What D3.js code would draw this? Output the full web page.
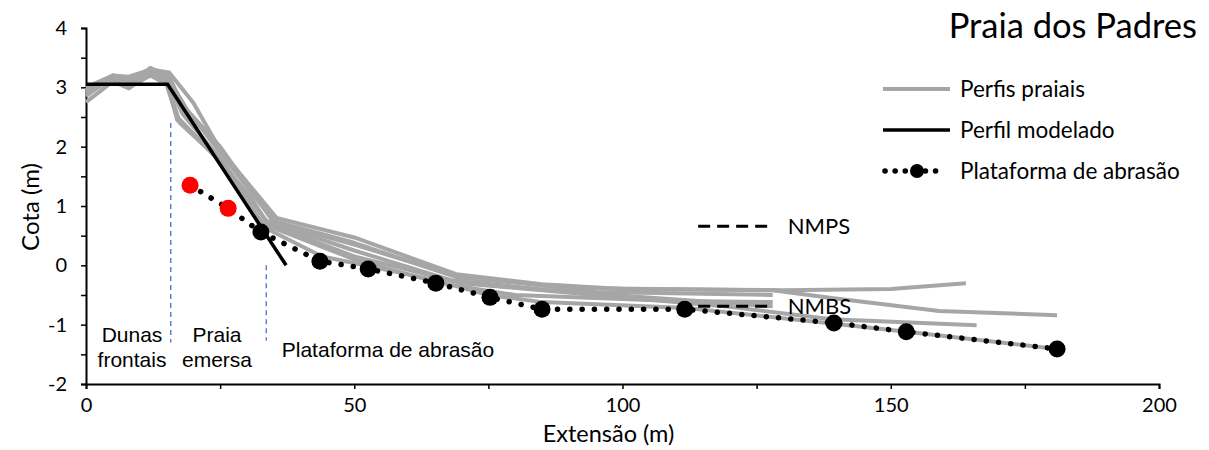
<!DOCTYPE html>
<html>
<head>
<meta charset="utf-8">
<script src="https://cdn.jsdelivr.net/npm/d3@7"></script>
<style>
  body { margin: 0; background: #fff; }
  svg text { fill: #000; }
</style>
</head>
<body>
<svg id="chart" width="1209" height="450"></svg>
<script>
// beach profiles, [distance m, elevation m]
const profileA = [[0,2.95],[3,3.1],[5,3.2],[8,3.15],[12,3.3],[15.5,3.25],[20,2.74],[25,1.95],[35.5,0.8],[50,0.47],[69,-0.15],[85,-0.32],[100,-0.4],[130,-0.42],[150,-0.4],[164,-0.3]];
const profileB = [[0,2.85],[5,3.18],[8,3.05],[12,3.33],[15,3.2],[19,2.6],[25,1.9],[35,0.75],[50,0.38],[69,-0.2],[90,-0.38],[128,-0.42],[139,-0.55],[159,-0.77],[181,-0.84]];
const profileC = [[0,2.75],[5,3.1],[8,2.98],[12,3.25],[15,3.1],[17.5,2.4],[23.7,1.89],[30.6,1.16],[33.5,0.75],[50,0.25],[68,-0.25],[90,-0.45],[114,-0.6],[128,-0.69]];
const profileD = [[0,3.0],[5,3.2],[8,3.1],[12,3.28],[15,3.15],[18,2.55],[25,1.8],[34,0.7],[50,0.15],[70,-0.3],[95,-0.5],[120,-0.7],[139,-0.91],[166,-1.01]];
const profileE = [[0,2.9],[5,3.15],[8,3.0],[12,3.2],[15,3.05],[17,2.5],[25,1.75],[33,0.65],[44,0.15],[52,0.0],[65,-0.25],[75,-0.5],[85,-0.62],[112,-0.72],[139,-0.98],[153,-1.12],[181,-1.41]];
const profileF = [[0,2.95],[5,3.2],[8,3.18],[12,3.3],[15.5,3.18],[18,2.7],[25,2.0],[35,0.72],[50,0.35],[68,-0.15],[95,-0.45],[128,-0.5]];
const profileG = [[0,3.0],[6,3.15],[8,3.05],[12,3.22],[15,3.1],[17,2.45],[24,1.85],[33,0.7],[50,0.1],[66,-0.3],[80,-0.5],[110,-0.6],[128,-0.62]];
const profiles = [profileA, profileB, profileC, profileD, profileE, profileF, profileG];

// modelled profile
const modelX = [0, 15.2, 37.3];
const modelY = [3.05, 3.05, 0];

// abrasion platform (first two points are the red ones)
const platformX = [19.4, 26.5, 32.6, 43.6, 52.6, 65.2, 75.3, 85, 111.6, 139.4, 152.9, 181];
const platformY = [1.35, 0.96, 0.56, 0.07, -0.06, -0.3, -0.54, -0.74, -0.74, -0.97, -1.12, -1.41];
const redPoints = 2;

// sea levels
const levelNames = ["NMPS", "NMBS"];
const levelX = [114.1, 128];
const levelY = [0.66, -0.69];

// zone boundaries
const zoneX = [15.8, 33.6];
const zoneTop = [2.4, 0];
const zoneBottom = [-1.3, -1.27];

const xTicks = d3.range(0, 201, 25);
const yTicks = d3.range(-2, 4.01, 0.5);

const margin = {top: 28, left: 86};
const w = 1073, h = 356;
const uiFont = "Lato, 'Open Sans', sans-serif";
const zoneFont = "'Liberation Sans', Arial, sans-serif";

const svg = d3.select("#chart");
const g = svg.append("g").attr("transform", `translate(${margin.left},${margin.top})`);

const x = d3.scaleLinear().domain([0, 200]).range([0, w]);
const y = d3.scaleLinear().domain([-2, 4]).range([h, 0]);
const line = d3.line().x(d => x(d[0])).y(d => y(d[1]));

// axes
const yAxis = g.append("g")
  .call(d3.axisLeft(y).tickValues(yTicks).tickSize(5).tickPadding(14)
    .tickFormat(d => Number.isInteger(d) ? String(d) : ""));
const xAxis = g.append("g").attr("transform", `translate(0,${h})`)
  .call(d3.axisBottom(x).tickValues(xTicks).tickSize(5).tickPadding(9)
    .tickFormat(d => d % 50 === 0 ? String(d) : ""));
[xAxis, yAxis].forEach(a => {
  a.attr("font-size", null).attr("font-family", null);
  a.select(".domain").attr("stroke", "#000").attr("stroke-width", 2);
  a.selectAll(".tick line").attr("stroke", "#000").attr("stroke-width", 1.5);
  a.selectAll(".tick text").style("font-family", uiFont).style("font-size", "20px").attr("fill", "#000");
});

g.append("text").attr("transform", `translate(-47,${h / 2 + 1}) rotate(-90)`)
  .attr("text-anchor", "middle").style("font-family", uiFont).style("font-size", "24px").text("Cota (m)");
g.append("text").attr("x", x(100) - 14).attr("y", h + 58)
  .attr("text-anchor", "middle").style("font-family", uiFont).style("font-size", "23.5px").text("Extensão (m)");

// zone dividers
g.selectAll(".zone").data(zoneX).join("line")
  .attr("x1", d => x(d)).attr("x2", d => x(d))
  .attr("y1", (d, i) => y(zoneTop[i])).attr("y2", (d, i) => y(zoneBottom[i]))
  .attr("stroke", "#4472c4").attr("stroke-width", 1.3).attr("stroke-dasharray", "5,4");

// gray profiles
g.selectAll(".prof").data(profiles).join("path")
  .attr("d", line).attr("fill", "none")
  .attr("stroke", "#a6a6a6").attr("stroke-width", 4).attr("stroke-linejoin", "round");

// modelled profile
g.append("path").datum(modelX.map((d, i) => [d, modelY[i]]))
  .attr("d", line).attr("fill", "none").attr("stroke", "#000").attr("stroke-width", 3.5);

// sea level dashes
g.selectAll(".lvl").data(levelY).join("line")
  .attr("x1", x(levelX[0])).attr("x2", x(levelX[1]))
  .attr("y1", d => y(d)).attr("y2", d => y(d))
  .attr("stroke", "#000").attr("stroke-width", 3).attr("stroke-dasharray", "12,7");
g.selectAll(".lvlText").data(levelNames).join("text")
  .attr("x", x(levelX[1]) + 15).attr("y", (d, i) => y(levelY[i]))
  .attr("dy", "0.35em").style("font-family", uiFont).style("font-size", "22px").text(d => d);

// platform dotted line + markers
const platform = platformX.map((d, i) => [d, platformY[i]]);
g.append("path").datum(platform).attr("d", line).attr("fill", "none")
  .attr("stroke", "#000").attr("stroke-width", 5.5).attr("stroke-linecap", "round")
  .attr("stroke-dasharray", "0.1,12.2");
g.selectAll(".pt").data(platform).join("circle")
  .attr("cx", d => x(d[0])).attr("cy", d => y(d[1])).attr("r", 8.5)
  .attr("fill", (d, i) => i < redPoints ? "#ff0000" : "#000");

// zone labels
const zoneLabels = [
  {lines: ["Dunas", "frontais"], cx: 132 - margin.left, y0: 342},
  {lines: ["Praia", "emersa"], cx: 217 - margin.left, y0: 342},
  {lines: ["Plataforma de abrasão"], cx: 388 - margin.left, y0: 357}
];
zoneLabels.forEach(z => {
  z.lines.forEach((t, i) => {
    g.append("text").attr("x", z.cx).attr("y", z.y0 - margin.top + i * 25)
      .attr("text-anchor", "middle").style("font-family", zoneFont)
      .style("font-size", "21px").text(t);
  });
});

// title
svg.append("text").attr("x", 1197).attr("y", 38).attr("text-anchor", "end")
  .style("font-family", uiFont).style("font-size", "34.5px").text("Praia dos Padres");

// legend
const legend = svg.append("g").attr("transform", "translate(883,89)");
const leg = [
  {label: "Perfis praiais", color: "#a6a6a6", type: "solid"},
  {label: "Perfil modelado", color: "#000", type: "solid"},
  {label: "Plataforma de abrasão", color: "#000", type: "dot"}
];
leg.forEach((d, i) => {
  const row = legend.append("g").attr("transform", `translate(0,${i * 41})`);
  if (d.type === "solid") {
    row.append("line").attr("x1", 0).attr("x2", 67).attr("stroke", d.color)
      .attr("stroke-width", d.color === "#000" ? 3.5 : 4);
  } else {
    row.append("line").attr("x1", 2).attr("x2", 62).attr("stroke", "#000")
      .attr("stroke-width", 5.5).attr("stroke-linecap", "round").attr("stroke-dasharray", "0.1,10");
    row.append("circle").attr("cx", 34).attr("r", 7).attr("fill", "#000");
  }
  row.append("text").attr("x", 77).attr("dy", "0.35em").style("font-family", uiFont)
    .style("font-size", "22.5px").text(d.label);
});
</script>
</body>
</html>
